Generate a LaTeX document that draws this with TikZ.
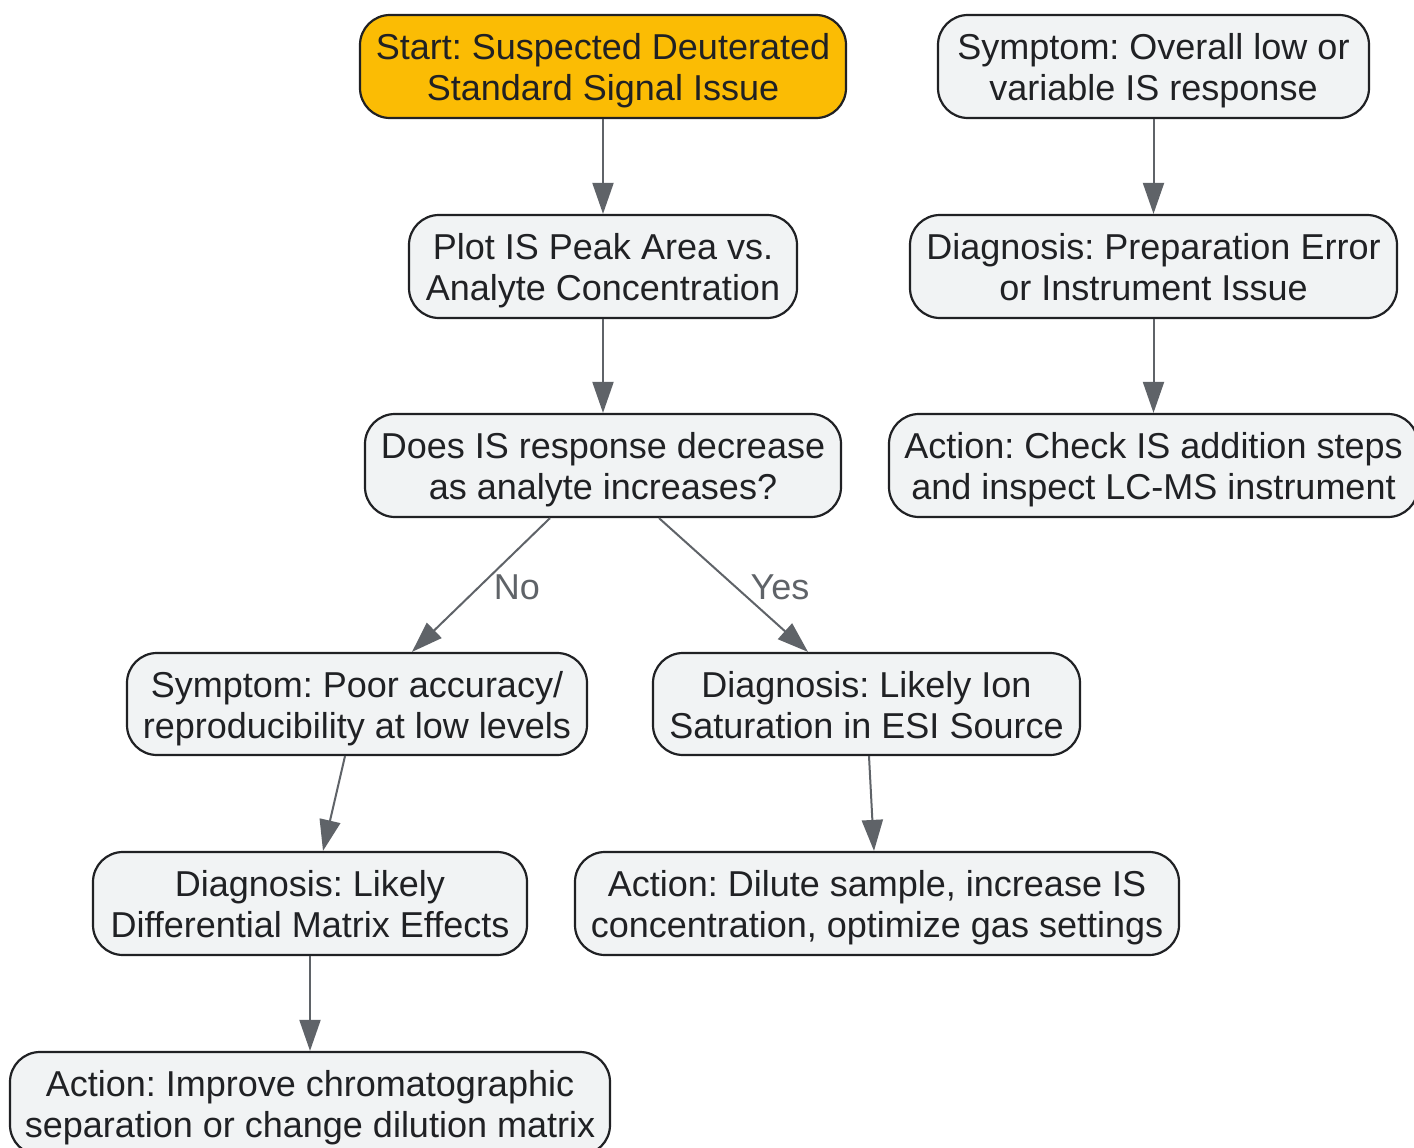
\documentclass[tikz,border=0pt]{standalone}
\usepackage{fontspec}
\setmainfont{Liberation Sans}
\frenchspacing
\usetikzlibrary{arrows.meta,positioning}
\definecolor{boxfill}{HTML}{F1F3F4}
\definecolor{boxline}{HTML}{202124}
\definecolor{startfill}{HTML}{FBBC04}
\definecolor{edgecol}{HTML}{5F6368}
\newcommand{\twolines}[2]{\rule{0pt}{36pt}#1\\#2\rule[-9pt]{0pt}{9pt}}
\begin{document}
\begin{tikzpicture}[x=1pt,y=-1pt,
  box/.style={draw=boxline, line width=2.2pt, fill=boxfill, rounded corners=30pt,
    align=center, text=boxline, inner sep=0pt,
    font=\fontsize{36}{41}\selectfont, minimum height=103pt},
  startbox/.style={box, fill=startfill},
  conn/.style={draw=edgecol, line width=2pt, -{Triangle[length=31pt,width=21pt]}},
  lbl/.style={text=edgecol, font=\fontsize{36}{41}\selectfont, inner sep=0pt}
]
\useasboundingbox (0,0) rectangle (1414,1148);
\fill[white] (0,0) rectangle (1414,1148);

\node[startbox, minimum width=486pt] (start) at (603,66.5) {\twolines{Start: Suspected Deuterated}{Standard Signal Issue}};
\node[box, minimum width=388pt] (plot) at (603,266.5) {\twolines{Plot IS Peak Area vs.}{Analyte Concentration}};
\node[box, minimum width=476pt] (does) at (603,465.5) {\twolines{Does IS response decrease}{as analyte increases?}};
\node[box, minimum width=460pt, minimum height=102pt] (poor) at (357,704) {\twolines{Symptom: Poor accuracy/}{reproducibility at low levels}};
\node[box, minimum width=427pt, minimum height=102pt] (ion) at (866.5,704) {\twolines{Diagnosis: Likely Ion}{Saturation in ESI Source}};
\node[box, minimum width=434pt] (diff) at (310,903.5) {\twolines{Diagnosis: Likely}{Differential Matrix Effects}};
\node[box, minimum width=604pt] (dilute) at (877,903.5) {\twolines{Action: Dilute sample, increase IS}{concentration, optimize gas settings}};
\node[box, minimum width=600pt] (improve) at (310,1103.5) {\twolines{Action: Improve chromatographic}{separation or change dilution matrix}};
\node[box, minimum width=431pt] (overall) at (1153.5,66.5) {\twolines{Symptom: Overall low or}{variable IS response}};
\node[box, minimum width=487pt] (prep) at (1153.5,266.5) {\twolines{Diagnosis: Preparation Error}{or Instrument Issue}};
\node[box, minimum width=529pt] (check) at (1153.5,465.5) {\twolines{Action: Check IS addition steps}{and inspect LC-MS instrument}};

\draw[conn] (start) -- (plot);
\draw[conn] (plot) -- (does);
\draw[conn] ([xshift=-53pt]does.south) -- ([xshift=55pt]poor.north);
\draw[conn] ([xshift=56pt]does.south) -- ([xshift=-58.5pt]ion.north);
\draw[conn] ([xshift=-12pt]poor.south) -- ([xshift=13pt]diff.north);
\draw[conn] ([xshift=2.5pt]ion.south) -- ([xshift=-3pt]dilute.north);
\draw[conn] (diff) -- (improve);
\draw[conn] (overall) -- (prep);
\draw[conn] (prep) -- (check);

\node[lbl] (no) at (517,587) {No};
\node[lbl] (yes) at (780,587) {Yes};
\end{tikzpicture}
\end{document}
